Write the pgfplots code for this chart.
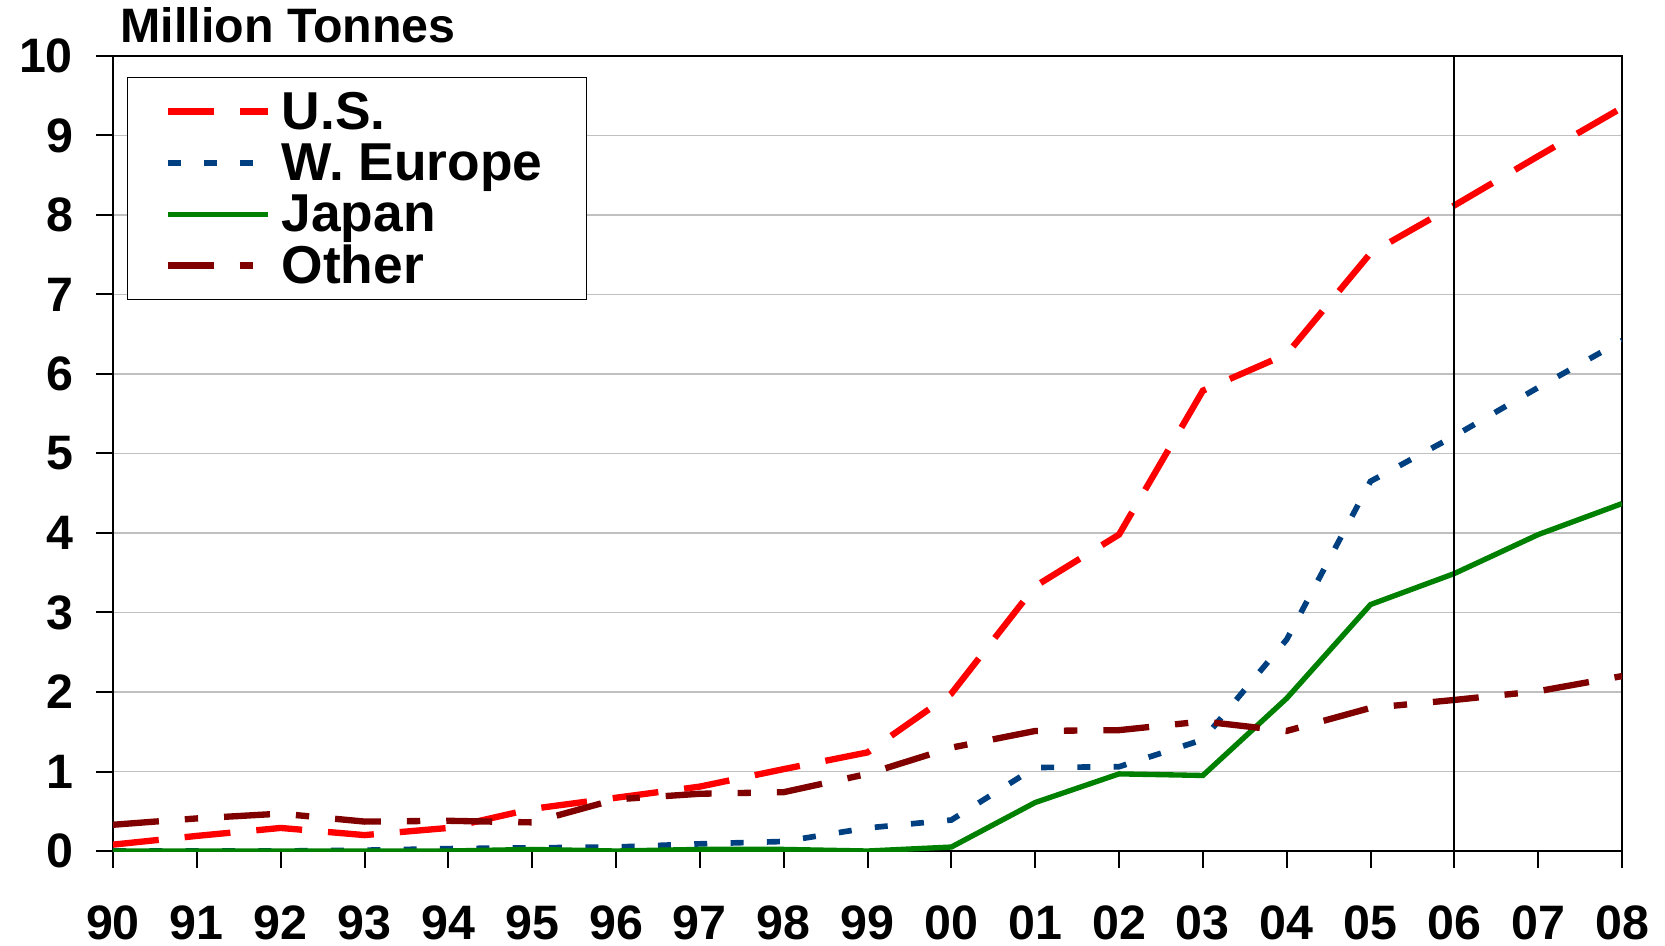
\documentclass[border=0pt]{standalone}
\usepackage{fontspec}
\setmainfont{Liberation Sans}
\usepackage{pgfplots}
\pgfplotsset{compat=1.18}
\definecolor{usred}{HTML}{FF0000}
\definecolor{weblue}{HTML}{004080}
\definecolor{jpgreen}{HTML}{008000}
\definecolor{othred}{HTML}{800000}
\definecolor{gridgray}{HTML}{C0C0C0}
\newcommand{\chartfont}{\bfseries\fontsize{14.5}{17}\selectfont}
\newcommand{\legfont}{\bfseries\fontsize{16}{19}\selectfont}
\begin{document}
\begin{tikzpicture}
\begin{axis}[
  scale only axis,
  width=452.7pt, height=238.5pt,
  xmin=0, xmax=18, ymin=0, ymax=10,
  xtick={0,...,18},
  xticklabels={90,91,92,93,94,95,96,97,98,99,00,01,02,03,04,05,06,07,08},
  ytick={0,...,10},
  /pgf/number format/assume math mode=true,
  ticklabel style={font=\chartfont},
  xticklabel style={yshift=-8pt},
  yticklabel style={xshift=-3.5pt},
  tick align=outside,
  major tick length=5pt,
  tick style={black, line width=0.6pt},
  xtick pos=bottom, ytick pos=left,
  ymajorgrids,
  grid style={gridgray, line width=0.5pt},
  axis line style={black, line width=0.7pt},
  legend style={at={(0.0093,0.9736)}, anchor=north west,
    draw=black, line width=0.4pt, inner xsep=9pt, inner ysep=2.5pt,
    font=\legfont,
    nodes={text height=12.5pt, text depth=1.9pt, inner ysep=0.5pt},
    row sep=0pt},
  legend cell align=left,
  legend image code/.code={\path (0pt,0pt) (33.3pt,0pt); \draw[#1] (2pt,0pt) -- (32pt,0pt);},
]
\addplot[usred, line width=1.9pt, dash pattern=on 13.8pt off 7.8pt] coordinates {
(0,0.08) (1,0.19) (2,0.29) (3,0.20) (4,0.29) (5,0.53) (6,0.67) (7,0.81) (8,1.03) (9,1.24)
(10,1.98) (11,3.33) (12,3.98) (13,5.79) (14,6.25) (15,7.52) (16,8.12) (17,8.74) (18,9.35)};
\addlegendentry{U.S.}
\addplot[weblue, line width=1.7pt, dash pattern=on 3.9pt off 7pt] coordinates {
(0,0) (1,0) (2,0) (3,0.01) (4,0.03) (5,0.04) (6,0.05) (7,0.09) (8,0.12) (9,0.29)
(10,0.39) (11,1.05) (12,1.06) (13,1.40) (14,2.66) (15,4.65) (16,5.22) (17,5.83) (18,6.42)};
\addlegendentry{W. Europe\rule{2.2pt}{0pt}}
\addplot[jpgreen, line width=1.6pt] coordinates {
(0,0) (1,0) (2,0) (3,0) (4,0) (5,0.02) (6,0) (7,0.02) (8,0.02) (9,0)
(10,0.05) (11,0.61) (12,0.97) (13,0.95) (14,1.92) (15,3.10) (16,3.49) (17,3.98) (18,4.37)};
\addlegendentry{Japan}
\addplot[othred, line width=1.9pt, dash pattern=on 13.8pt off 7.8pt on 4pt off 7.8pt] coordinates {
(0,0.33) (1,0.41) (2,0.47) (3,0.37) (4,0.38) (5,0.36) (6,0.65) (7,0.72) (8,0.74) (9,0.97)
(10,1.30) (11,1.51) (12,1.52) (13,1.63) (14,1.51) (15,1.80) (16,1.90) (17,2.01) (18,2.20)};
\addlegendentry{Other}
\draw[black, line width=0.6pt] (axis cs:16,10) -- (axis cs:16,0) -- ++(0,-7pt);
\end{axis}
\node[anchor=base west, inner sep=0, font=\chartfont] at (2.1pt,242.4pt) {Million Tonnes};
\pgfresetboundingbox
\useasboundingbox (-33.9pt,-28.2pt) rectangle (465.6pt,255.3pt);
\end{tikzpicture}
\end{document}
